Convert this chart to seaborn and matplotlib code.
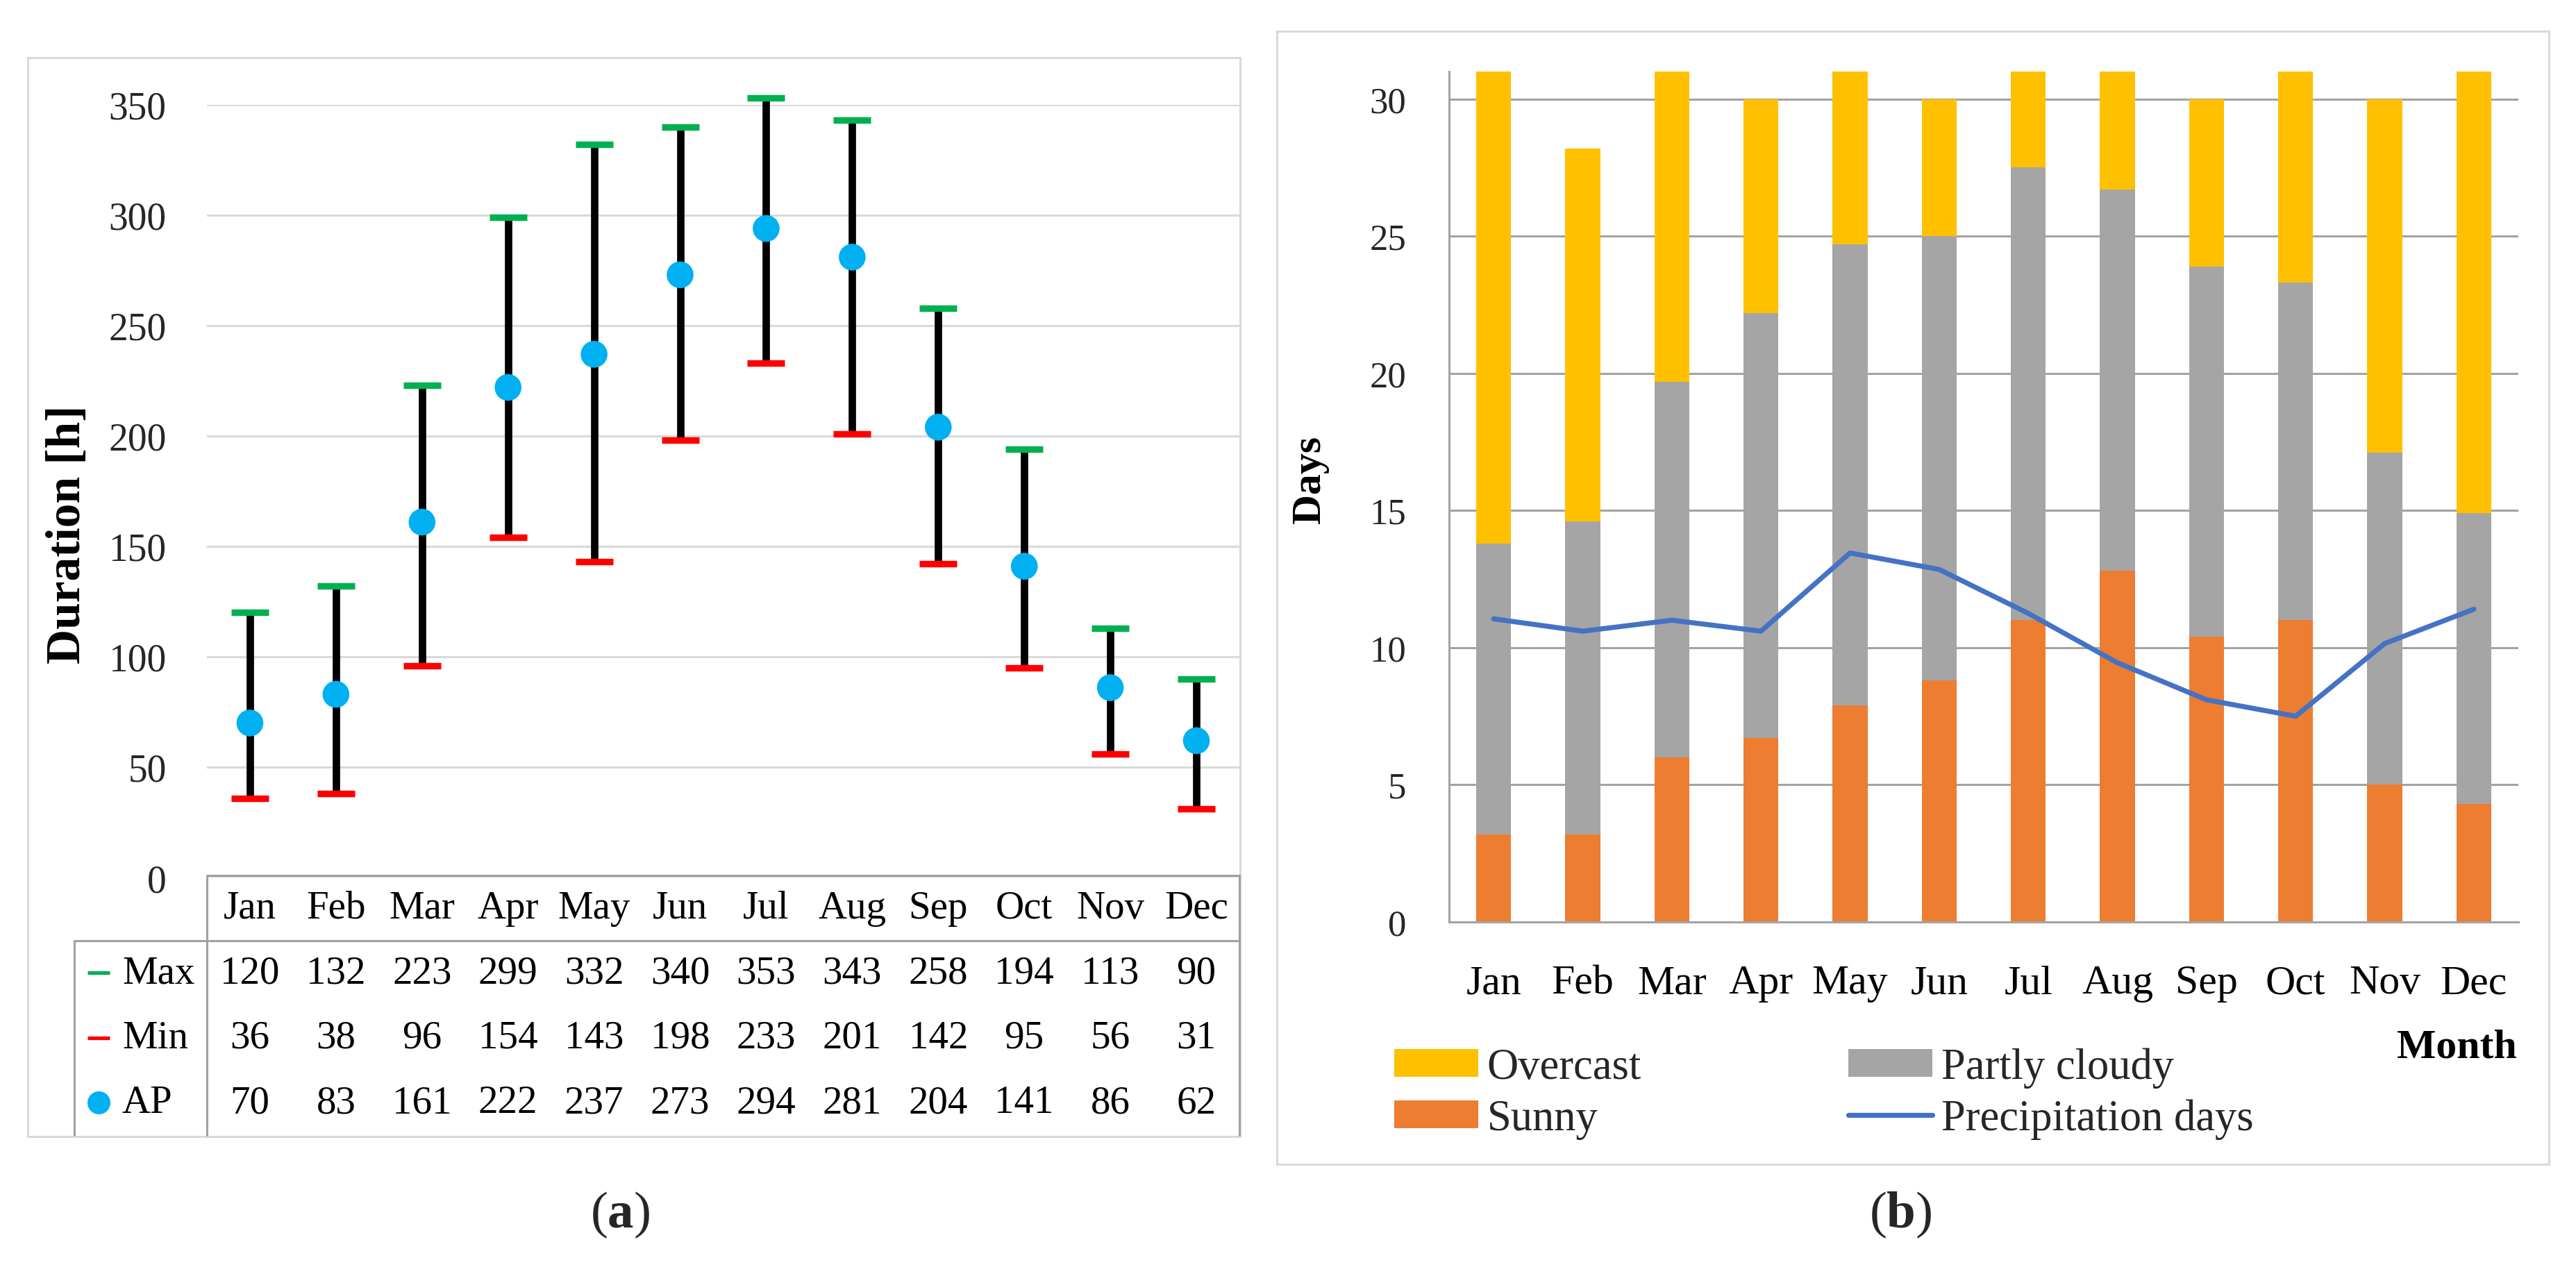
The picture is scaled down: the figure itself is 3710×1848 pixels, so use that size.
import numpy as np
import pandas as pd
import matplotlib
matplotlib.use("Agg")
import matplotlib.pyplot as plt
import seaborn as sns
from matplotlib.patches import Rectangle, Patch
from matplotlib.lines import Line2D

# ---------------- data ----------------
months = ["Jan", "Feb", "Mar", "Apr", "May", "Jun", "Jul", "Aug", "Sep", "Oct", "Nov", "Dec"]
sun_max = [120, 132, 223, 299, 332, 340, 353, 343, 258, 194, 113, 90]
sun_min = [36, 38, 96, 154, 143, 198, 233, 201, 142, 95, 56, 31]
sun_ap = [70, 83, 161, 222, 237, 273, 294, 281, 204, 141, 86, 62]
duration_ticks = [0, 50, 100, 150, 200, 250, 300, 350]

sunny_days = [3.2, 3.2, 6.0, 6.7, 7.9, 8.8, 11.0, 12.8, 10.4, 11.0, 5.0, 4.3]
partly_cloudy_days = [10.6, 11.4, 13.7, 15.5, 16.8, 16.2, 16.5, 13.9, 13.5, 12.3, 12.1, 10.6]
overcast_days = [17.2, 13.6, 11.3, 7.8, 6.3, 5.0, 3.5, 4.3, 6.1, 7.7, 12.9, 16.1]
precip_days = [11.05, 10.6, 11.0, 10.6, 13.45, 12.85, 11.25, 9.45, 8.1, 7.5, 10.15, 11.4]
days_ticks = [0, 5, 10, 15, 20, 25, 30]

row_labels = ["Max", "Min", "AP"]

# ---------------- style ----------------
sns.set_style("white")
plt.rcParams["font.family"] = ["Liberation Serif", "DejaVu Serif"]
plt.rcParams["mathtext.fontset"] = "custom"
plt.rcParams["mathtext.rm"] = "Liberation Serif"
plt.rcParams["mathtext.bf"] = "Liberation Serif:bold"
plt.rcParams["mathtext.it"] = "Liberation Serif:italic"

W, H, DPI = 3710, 1849, 200
fig = plt.figure(figsize=(W / DPI, H / DPI), dpi=DPI)
fig.patch.set_facecolor("white")


def fx(px):
    return px / W


def fy(py):
    return 1 - py / H


def rect(l, t, r, b):
    return [fx(l), fy(b), fx(r) - fx(l), fy(t) - fy(b)]


GREEN, RED, BLUE = "#00B050", "#FF0000", "#00B0F0"
YEL, GREY, ORA, LBLUE = "#FFC000", "#A5A5A5", "#ED7D31", "#4472C4"
TXT = "#262626"

# panel frames
for (l, t, r, b) in [(40, 84, 1786, 1638), (1839, 46, 3671, 1678)]:
    fig.add_artist(Rectangle((fx(l), fy(b)), fx(r) - fx(l), fy(t) - fy(b),
                             transform=fig.transFigure, fill=False,
                             ec="#d9d9d9", lw=1.1, zorder=0))

# ---------------- panel (a) ----------------
ax_a = fig.add_axes(rect(298, 152, 1785, 1265))
df_a = pd.DataFrame({"pos": np.arange(len(months)), "month": months,
                     "max": sun_max, "min": sun_min, "ap": sun_ap})
ax_a.vlines(df_a["pos"], df_a["min"], df_a["max"], color="black", lw=3.85,
            zorder=3, clip_on=False)
ax_a.plot(df_a["pos"], df_a["max"], ls="none", marker="_", ms=19.4, mew=3.4,
          color=GREEN, zorder=4, clip_on=False)
ax_a.plot(df_a["pos"], df_a["min"], ls="none", marker="_", ms=19.4, mew=3.4,
          color=RED, zorder=4, clip_on=False)
sns.scatterplot(data=df_a, x="pos", y="ap", ax=ax_a, s=193, color=BLUE,
                edgecolor="none", linewidth=0, zorder=5, clip_on=False, legend=False)
ax_a.set_xlim(-0.5, len(months) - 0.5)
ax_a.set_ylim(0, 350)
ax_a.set_yticks(duration_ticks)
ax_a.set_xticks([])
ax_a.yaxis.grid(True, color="#d9d9d9", lw=1.1)
ax_a.xaxis.grid(False)
ax_a.set_axisbelow(True)
for s in ax_a.spines.values():
    s.set_visible(False)
ax_a.tick_params(axis="y", length=0, pad=21, labelsize=20, labelcolor=TXT)
ax_a.set_xlabel("")
ax_a.set_ylabel("")
ax_a.patch.set_alpha(0)
fig.text(fx(98), fy(770), "Duration [h]", rotation=90, ha="center", va="center",
         fontsize=25, fontweight="bold", color="black")

# table below panel (a)
ax_t = fig.add_axes(rect(298, 1262, 1785, 1636))
ax_t.set_xlim(-0.5, len(months) - 0.5)
ax_t.set_ylim(0, 4)
ax_t.axis("off")
LC = "#a0a0a0"
xl = -2.041
ax_t.plot([-0.5, 11.5], [4, 4], color=LC, lw=1.1, clip_on=False)
ax_t.plot([xl, 11.5], [3, 3], color=LC, lw=1.1, clip_on=False)
ax_t.plot([-0.5, -0.5], [0, 4], color=LC, lw=1.1, clip_on=False)
ax_t.plot([11.5, 11.5], [0, 4], color=LC, lw=1.1, clip_on=False)
ax_t.plot([xl, xl], [0, 3], color=LC, lw=1.1, clip_on=False)
for i, m in enumerate(months):
    ax_t.text(i, 3.5, m, ha="center", va="center", fontsize=20.5, color="black")
table_rows = [sun_max, sun_min, sun_ap]
row_y = [2.5, 1.5, 0.5]
for vals, yy in zip(table_rows, row_y):
    for i, v in enumerate(vals):
        ax_t.text(i, yy, str(v), ha="center", va="center", fontsize=20.5, color="black")
ax_t.plot([-1.759], [2.5], marker="_", ms=11.2, mew=1.9, color=GREEN, clip_on=False)
ax_t.plot([-1.759], [1.5], marker="_", ms=11.2, mew=1.9, color=RED, clip_on=False)
ax_t.plot([-1.759], [0.5], marker="o", ms=11.9, mec="none", color=BLUE, clip_on=False)
for lab, yy in zip(row_labels, row_y):
    ax_t.text(-1.485, yy, lab, ha="left", va="center", fontsize=20.5, color="black")

# ---------------- panel (b) ----------------
ax_b = fig.add_axes(rect(2087, 104, 3627, 1329))
sunny = np.array(sunny_days)
partly = np.array(partly_cloudy_days)
over = np.array(overcast_days)
tot3 = sunny + partly + over
tot2 = sunny + partly
sns.barplot(x=months, y=tot3, color=YEL, width=0.39, saturation=1, errorbar=None,
            linewidth=0, ax=ax_b, zorder=2)
sns.barplot(x=months, y=tot2, color=GREY, width=0.39, saturation=1, errorbar=None,
            linewidth=0, ax=ax_b, zorder=2)
sns.barplot(x=months, y=sunny, color=ORA, width=0.39, saturation=1, errorbar=None,
            linewidth=0, ax=ax_b, zorder=2)
sns.lineplot(x=np.arange(len(months)), y=precip_days, color=LBLUE, lw=2.6,
             ax=ax_b, zorder=4)
ax_b.set_xlim(-0.5, len(months) - 0.5)
ax_b.set_ylim(0, 31)
ax_b.set_yticks(days_ticks)
GC = "#a3a3a3"
ax_b.yaxis.grid(True, color=GC, lw=1.1, zorder=1)
ax_b.xaxis.grid(False)
ax_b.set_axisbelow(True)
for k in ["top", "right"]:
    ax_b.spines[k].set_visible(False)
for k in ["left", "bottom"]:
    ax_b.spines[k].set_color(GC)
    ax_b.spines[k].set_linewidth(1.1)
ax_b.set_xticks(np.arange(len(months)))
ax_b.set_xticklabels(months)
ax_b.set_xticks(np.arange(-0.5, len(months)), minor=True)
ax_b.tick_params(axis="x", which="major", length=0, pad=22, labelsize=21.5, labelcolor="black")
ax_b.tick_params(axis="x", which="minor", length=7.9, width=1.1, color=GC, direction="out")
ax_b.tick_params(axis="y", length=6.8, width=1.1, color=GC, direction="out", pad=15.5,
                 labelsize=19, labelcolor=TXT)
ax_b.set_xlabel("")
ax_b.set_ylabel("")
ax_b.patch.set_alpha(0)
fig.text(fx(1887), fy(691), "Days", rotation=90, ha="center", va="center",
         fontsize=21.5, fontweight="bold", color="black")
fig.text(fx(3625), fy(1510), "Month", ha="right", va="center",
         fontsize=21.5, fontweight="bold", color="black")

leg_kw = dict(loc="center left", frameon=False, fontsize=22.5, handlelength=1.94,
              handleheight=0.6, handletextpad=0.2, labelspacing=0.25,
              borderpad=0, borderaxespad=0, bbox_transform=fig.transFigure)
leg1 = fig.legend(handles=[Patch(color=YEL, lw=0), Patch(color=ORA, lw=0)],
                  labels=["Overcast", "Sunny"],
                  bbox_to_anchor=(fx(2008), fy(1576)), **leg_kw)
leg2 = fig.legend(handles=[Patch(color=GREY, lw=0), Line2D([], [], color=LBLUE, lw=2.6)],
                  labels=["Partly cloudy", "Precipitation days"],
                  bbox_to_anchor=(fx(2662), fy(1576)), **leg_kw)

# captions
fig.text(fx(893), fy(1750), r"($\mathbf{a}$)", ha="center", va="center", fontsize=27)
fig.text(fx(2737), fy(1750), r"($\mathbf{b}$)", ha="center", va="center", fontsize=27)

fig.savefig("out.png", dpi=DPI, facecolor="white")
